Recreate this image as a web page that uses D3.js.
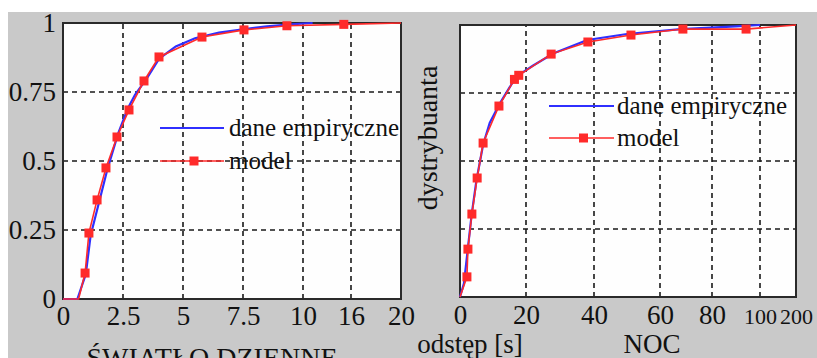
<!DOCTYPE html>
<html>
<head>
<meta charset="utf-8">
<script src="https://cdn.jsdelivr.net/npm/d3@7"></script>
<style>
  html, body { margin: 0; padding: 0; background: #fff; }
  svg { display: block; }
  svg text { font-family: "Liberation Serif", Tinos, "Times New Roman", Times, "DejaVu Serif", serif !important; fill: #111; }
</style>
</head>
<body>
<svg id="chart" width="817" height="358"></svg>
<script>
// ---- daylight panel (ŚWIATŁO DZIENNE) ----
const dayTicks = [0, 2.5, 5, 7.5, 10, 16, 20];
const dayEmpX = [0, 0.6, 0.95, 1.15, 1.5, 1.85, 2.3, 2.7, 3.0, 3.5, 4.0, 4.7, 5.5, 6.5, 7.5, 8.5, 9.5, 10.6, 11.2];
const dayEmpY = [0, 0, 0.09, 0.23, 0.35, 0.47, 0.6, 0.69, 0.74, 0.8, 0.87, 0.915, 0.945, 0.965, 0.977, 0.988, 0.995, 0.999, 1.0];
const dayModelX = [0, 0.65, 0.92, 1.08, 1.42, 1.79, 2.25, 2.75, 3.375, 4.0, 5.79, 7.54, 9.33, 15.1, 20];
const dayModelY = [0, 0, 0.094, 0.239, 0.359, 0.475, 0.587, 0.685, 0.79, 0.877, 0.949, 0.975, 0.99, 0.995, 1.0];
const dayMarkerX = [0.92, 1.08, 1.42, 1.79, 2.25, 2.75, 3.375, 4.0, 5.79, 7.54, 9.33, 15.1];
const dayMarkerY = [0.094, 0.239, 0.359, 0.475, 0.587, 0.685, 0.79, 0.877, 0.949, 0.975, 0.99, 0.995];

// ---- night panel (NOC) ----
const nightTicks = [0, 20, 40, 60, 80, 100, 200];
const nightEmpX = [0, 1.2, 2.3, 3.5, 5.0, 7.0, 9.0, 12, 17, 22, 28, 38, 50, 68, 90, 100];
const nightEmpY = [0, 0.05, 0.17, 0.3, 0.43, 0.56, 0.64, 0.71, 0.81, 0.85, 0.895, 0.945, 0.967, 0.985, 0.995, 1.0];
const nightModelX = [0, 2.1, 2.4, 3.6, 5.2, 7.0, 11.8, 16.5, 17.8, 27.4, 38.2, 51.2, 68.8, 94.2, 200];
const nightModelY = [0, 0.074, 0.176, 0.305, 0.4375, 0.566, 0.702, 0.8, 0.815, 0.893, 0.9375, 0.963, 0.985, 0.985, 1.0];
const nightMarkerX = [2.1, 2.4, 3.6, 5.2, 7.0, 11.8, 16.5, 17.8, 27.4, 38.2, 51.2, 68.8, 94.2];
const nightMarkerY = [0.074, 0.176, 0.305, 0.4375, 0.566, 0.702, 0.8, 0.815, 0.893, 0.9375, 0.963, 0.985, 0.985];

const gridY = [0.25, 0.5, 0.75];
const yTicks = [0, 0.25, 0.5, 0.75, 1];
const yTickLabels = ["0", "0.25", "0.5", "0.75", "1"];

const legendLabels = ["dane empiryczne", "model"];

const BLUE = "#2f2fff";
const RED = "#ff2a2a";
const SERIF = "'Liberation Serif', Tinos, 'Times New Roman', Times, 'DejaVu Serif', serif";

const svg = d3.select("#chart");

// grey backdrop behind both panels
svg.append("rect").attr("x", 8).attr("y", 12).attr("width", 809).attr("height", 346).attr("fill", "#c9c9c9");

function zipPts(xs, ys) { return xs.map((x, i) => [x, ys[i]]); }

function panel(cfg) {
  const { x, y, ticks, empX, empY, modX, modY, mkX, mkY, legend } = cfg;
  const g = svg.append("g");
  const [x0, x1] = [x.range()[0], x.range()[x.range().length - 1]];
  const [y0, y1] = y.range();

  g.append("rect").attr("x", x0).attr("y", y1).attr("width", x1 - x0).attr("height", y0 - y1)
    .attr("fill", "#fefefe");

  // dashed grid
  const grid = g.append("g").attr("stroke", "#1a1a1a").attr("stroke-width", 1.6)
    .attr("stroke-dasharray", "5,4");
  grid.selectAll("line.v").data(ticks.slice(1, -1)).join("line")
    .attr("x1", d => x(d)).attr("x2", d => x(d)).attr("y1", y0).attr("y2", y1);
  grid.selectAll("line.h").data(gridY).join("line")
    .attr("y1", d => y(d)).attr("y2", d => y(d)).attr("x1", x0).attr("x2", x1);

  // frame
  g.append("rect").attr("x", x0).attr("y", y1).attr("width", x1 - x0).attr("height", y0 - y1)
    .attr("fill", "none").attr("stroke", "#2a2a2a").attr("stroke-width", 2);

  const line = d3.line().x(d => x(d[0])).y(d => y(d[1]));

  g.append("path").datum(zipPts(empX, empY)).attr("d", line)
    .attr("fill", "none").attr("stroke", BLUE).attr("stroke-width", 2.2);
  g.append("path").datum(zipPts(modX, modY)).attr("d", line)
    .attr("fill", "none").attr("stroke", RED).attr("stroke-width", 1.6);
  g.selectAll("rect.mk").data(zipPts(mkX, mkY)).join("rect")
    .attr("x", d => x(d[0]) - 4.5).attr("y", d => y(d[1]) - 4.5)
    .attr("width", 9).attr("height", 9).attr("fill", RED);

  // legend
  const lg = g.append("g");
  const [lx0, lx1, tx, ly0, ly1] = legend;
  lg.append("line").attr("x1", lx0).attr("x2", lx1).attr("y1", ly0).attr("y2", ly0)
    .attr("stroke", BLUE).attr("stroke-width", 2.2);
  lg.append("line").attr("x1", lx0).attr("x2", lx1).attr("y1", ly1).attr("y2", ly1)
    .attr("stroke", RED).attr("stroke-width", 1.6);
  lg.append("rect").attr("x", (lx0 + lx1) / 2 + 2 - 4.5).attr("y", ly1 - 4.5)
    .attr("width", 9).attr("height", 9).attr("fill", RED);
  lg.selectAll("text").data(legendLabels).join("text")
    .attr("x", tx).attr("y", (d, i) => i ? ly1 : ly0).attr("dy", "0.3em")
    .attr("font-family", SERIF).attr("font-size", 25).text(d => d);
  return g;
}

// daylight
const xL = d3.scaleLinear().domain([0, 10, 16, 20]).range([63, 303, 351, 401]);
const yL = d3.scaleLinear().domain([0, 1]).range([299, 23]);
panel({ x: xL, y: yL, ticks: dayTicks, empX: dayEmpX, empY: dayEmpY, modX: dayModelX, modY: dayModelY,
  mkX: dayMarkerX, mkY: dayMarkerY, legend: [160, 224, 229, 128, 161] });

// night
const xR = d3.scaleLinear().domain([0, 20, 40, 60, 80, 100, 200]).range([460, 526, 594, 660, 712, 760, 796]);
const yR = d3.scaleLinear().domain([0, 1]).range([297, 25]);
panel({ x: xR, y: yR, ticks: nightTicks, empX: nightEmpX, empY: nightEmpY, modX: nightModelX, modY: nightModelY,
  mkX: nightMarkerX, mkY: nightMarkerY, legend: [549, 614, 617, 106, 138] });

// axes
const axL = svg.append("g").attr("transform", "translate(0,299)")
  .call(d3.axisBottom(xL).tickValues(dayTicks).tickSize(0).tickPadding(7).tickFormat(d3.format("")));
const axR = svg.append("g").attr("transform", "translate(0,297)")
  .call(d3.axisBottom(xR).tickValues(nightTicks).tickSize(0).tickPadding(8).tickFormat(d3.format("")));
const ayL = svg.append("g").attr("transform", "translate(63,0)")
  .call(d3.axisLeft(yL).tickValues(yTicks).tickSize(0).tickPadding(7)
    .tickFormat((d, i) => yTickLabels[i]));
[axL, axR, ayL].forEach(a => {
  a.attr("font-family", SERIF);
  a.select(".domain").remove();
  a.selectAll("text").attr("font-family", SERIF).attr("font-size", 27).attr("fill", "#111");
});
axR.selectAll("text").filter(d => d >= 100).attr("font-size", 22).attr("dy", "0.85em");

// axis names and panel titles
svg.append("text").attr("x", 212).attr("y", 367).attr("text-anchor", "middle")
  .attr("font-family", SERIF).attr("font-size", 28).text("ŚWIATŁO DZIENNE");
svg.append("text").attr("x", 652).attr("y", 353).attr("text-anchor", "middle")
  .attr("font-family", SERIF).attr("font-size", 27).text("NOC");
svg.append("text").attr("x", 470).attr("y", 353).attr("text-anchor", "middle")
  .attr("font-family", SERIF).attr("font-size", 27).text("odstęp [s]");
svg.append("text").attr("transform", "translate(437,138) rotate(-90)").attr("text-anchor", "middle")
  .attr("font-family", SERIF).attr("font-size", 28).text("dystrybuanta");
</script>
</body>
</html>
